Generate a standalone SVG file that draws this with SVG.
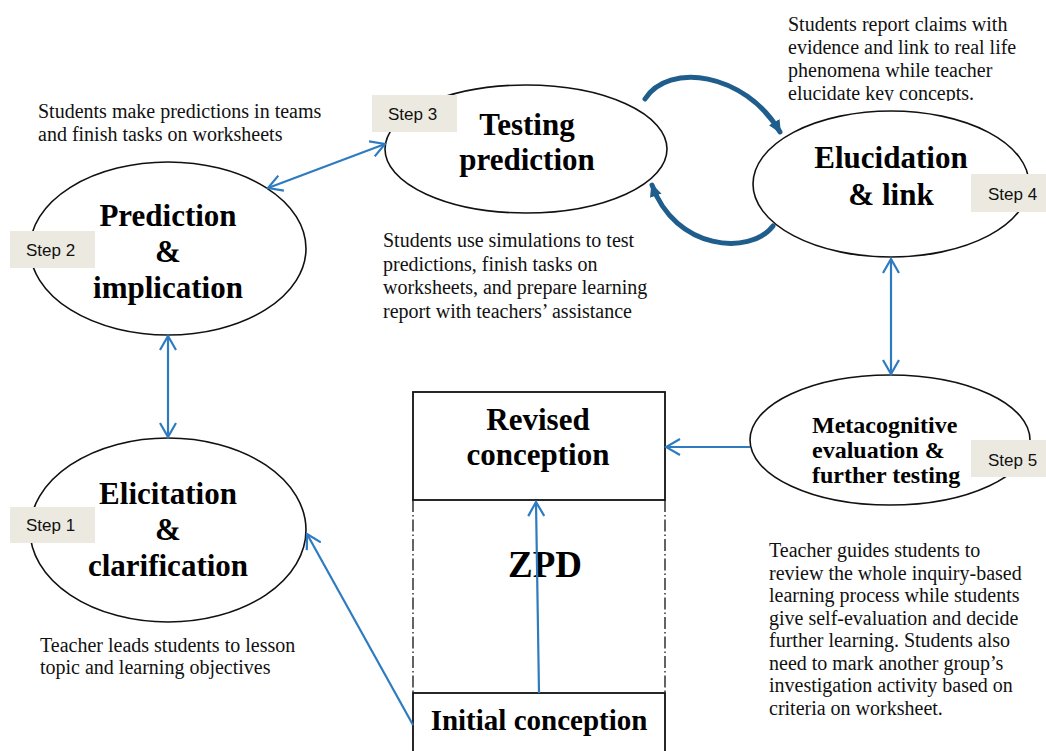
<svg xmlns="http://www.w3.org/2000/svg" width="1046" height="751" viewBox="0 0 1046 751">
<style>
.ell{fill:#fff;stroke:#111;stroke-width:1.6}
.box{fill:#fff;stroke:#111;stroke-width:1.8}
.step{fill:#ECEAE0}
.stept{font-family:"Liberation Sans",Arial,sans-serif;font-size:17px;fill:#111}
.title{font-family:"Liberation Serif","Times New Roman",serif;font-weight:bold;font-size:31px;fill:#000;text-anchor:middle}
.t5{font-family:"Liberation Serif","Times New Roman",serif;font-weight:bold;font-size:24px;fill:#000}
.desc{font-family:"Liberation Serif","Times New Roman",serif;font-size:20px;fill:#111}
.conn{stroke:#2E7BC0;stroke-width:2.2;fill:none}
.loop{stroke:#1F5E8C;stroke-width:5;fill:none;stroke-linecap:round}
.dd{stroke:#111;stroke-width:1.3;stroke-dasharray:12 3 1.5 3;fill:none}
</style>
<defs>
<marker id="open" viewBox="0 0 18 18" refX="16" refY="9" markerWidth="18" markerHeight="18" markerUnits="userSpaceOnUse" orient="auto-start-reverse">
<path d="M2,1 L16,9 L2,17" fill="none" stroke="#2E7BC0" stroke-width="2.2"/>
</marker>
<marker id="solid" viewBox="0 0 16 16" refX="13" refY="8" markerWidth="14" markerHeight="14" markerUnits="userSpaceOnUse" orient="auto">
<path d="M0,1 L15,8 L0,15 Z" fill="#1F5E8C"/>
</marker>
<clipPath id="clip4"><rect x="780" y="0" width="266" height="101"/></clipPath>
</defs>
<rect width="1046" height="751" fill="#fff"/>

<g id="descriptions">
<text class="desc" x="38" y="118">Students make predictions in teams</text>
<text class="desc" x="38" y="141">and finish tasks on worksheets</text>
<text class="desc" x="383" y="247">Students use simulations to test</text>
<text class="desc" x="383" y="270.5">predictions, finish tasks on</text>
<text class="desc" x="383" y="294">worksheets, and prepare learning</text>
<text class="desc" x="383" y="317.5">report with teachers’ assistance</text>
<g clip-path="url(#clip4)">
<text class="desc" x="788" y="31">Students report claims with</text>
<text class="desc" x="788" y="54">evidence and link to real life</text>
<text class="desc" x="788" y="77">phenomena while teacher</text>
<text class="desc" x="788" y="100">elucidate key concepts.</text>
</g>
<text class="desc" x="40" y="652">Teacher leads students to lesson</text>
<text class="desc" x="40" y="674">topic and learning objectives</text>
<text class="desc" x="769" y="557">Teacher guides students to</text>
<text class="desc" x="769" y="579.5">review the whole inquiry-based</text>
<text class="desc" x="769" y="602">learning process while students</text>
<text class="desc" x="769" y="624.5">give self-evaluation and decide</text>
<text class="desc" x="769" y="647">further learning. Students also</text>
<text class="desc" x="769" y="669.5">need to mark another group’s</text>
<text class="desc" x="769" y="692">investigation activity based on</text>
<text class="desc" x="769" y="714.5">criteria on worksheet.</text>
</g>

<g id="zpd">
<line class="dd" x1="413" y1="500" x2="413" y2="693"/>
<line class="dd" x1="665" y1="500" x2="665" y2="693"/>
<text class="title" x="545" y="577" style="font-size:37px">ZPD</text>
</g>

<g id="revised">
<rect class="box" x="413" y="392" width="252" height="108"/>
<text class="title" x="538" y="430">Revised</text>
<text class="title" x="538" y="465">conception</text>
</g>

<g id="initial">
<rect class="box" x="413" y="693" width="252" height="70"/>
<text class="title" x="539" y="730" style="font-size:29px">Initial conception</text>
</g>

<g id="step1">
<ellipse class="ell" cx="168" cy="530" rx="138" ry="92"/>
<text class="title" x="168" y="504">Elicitation</text>
<text class="title" x="168" y="540">&amp;</text>
<text class="title" x="168" y="576">clarification</text>
<rect class="step" x="10" y="507" width="85" height="36"/>
<text class="stept" x="26" y="531">Step 1</text>
</g>

<g id="step2">
<ellipse class="ell" cx="168" cy="248.5" rx="138" ry="86.5"/>
<text class="title" x="168" y="226">Prediction</text>
<text class="title" x="168" y="262">&amp;</text>
<text class="title" x="168" y="298">implication</text>
<rect class="step" x="10" y="231" width="85" height="37"/>
<text class="stept" x="26" y="256">Step 2</text>
</g>

<g id="step3">
<ellipse class="ell" cx="526" cy="149" rx="141" ry="64"/>
<text class="title" x="527" y="135">Testing</text>
<text class="title" x="527" y="170">prediction</text>
<rect class="step" x="372" y="95" width="85" height="37"/>
<text class="stept" x="388" y="120">Step 3</text>
</g>

<g id="step4">
<ellipse class="ell" cx="891" cy="184" rx="138" ry="73"/>
<text class="title" x="891" y="168">Elucidation</text>
<text class="title" x="891" y="205">&amp; link</text>
<rect class="step" x="971" y="174" width="75" height="38"/>
<text class="stept" x="988" y="200">Step 4</text>
</g>

<g id="step5">
<ellipse class="ell" cx="890" cy="440" rx="140" ry="65"/>
<text class="t5" x="812" y="433">Metacognitive</text>
<text class="t5" x="812" y="458">evaluation &amp;</text>
<text class="t5" x="812" y="483">further testing</text>
<rect class="step" x="971" y="440" width="75" height="37"/>
<text class="stept" x="988" y="466">Step 5</text>
</g>

<g id="connectors">
<line class="conn" x1="268" y1="188" x2="385" y2="144" marker-start="url(#open)" marker-end="url(#open)"/>
<line class="conn" x1="168" y1="336" x2="168" y2="437" marker-start="url(#open)" marker-end="url(#open)"/>
<line class="conn" x1="891" y1="259" x2="891" y2="374" marker-start="url(#open)" marker-end="url(#open)"/>
<line class="conn" x1="750" y1="447" x2="666" y2="447" marker-end="url(#open)"/>
<line class="conn" x1="539" y1="693" x2="536" y2="502" marker-end="url(#open)"/>
<line class="conn" x1="413" y1="725" x2="307" y2="534" marker-end="url(#open)"/>
<path class="loop" d="M645,99 C668,62 745,72 780,132" marker-end="url(#solid)"/>
<path class="loop" d="M773,226 C750,256 675,250 652,185" marker-end="url(#solid)"/>
</g>
</svg>
